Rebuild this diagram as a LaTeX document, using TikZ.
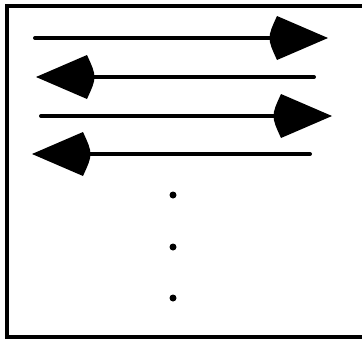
\documentclass[tikz,border=0pt]{standalone}

\begin{document}
\begin{tikzpicture}[x=1pt,y=-1pt]
\tikzset{
  frame/.style={line width=4pt},
  shaft/.style={line width=4pt,line cap=round},
  dot/.style={circle,fill,inner sep=0pt,minimum size=7pt},
  bighead/.pic={\fill (0,0) -- (-51,-22) .. controls (-61,0) .. (-51,22) -- cycle;}
}
\useasboundingbox (0,0) rectangle (362,338);
\clip (0,0) rectangle (362,338);
\draw[frame] (7,6) rectangle (372,337);
\coordinate (s_1) at (35,38);
\coordinate (t_1) at (328,38);
\coordinate (s_2) at (314,77);
\coordinate (t_2) at (36,77);
\coordinate (s_3) at (41,116);
\coordinate (t_3) at (332,116);
\coordinate (s_4) at (310,154);
\coordinate (t_4) at (32,154);
\node[dot] (d_1) at (173,195) {};
\node[dot] (d_2) at (173,247) {};
\node[dot] (d_3) at (173,298) {};
\draw[shaft] (s_1) -- ([xshift=-30pt]t_1);
\draw[shaft] (s_2) -- ([xshift=30pt]t_2);
\draw[shaft] (s_3) -- ([xshift=-30pt]t_3);
\draw[shaft] (s_4) -- ([xshift=30pt]t_4);
\pic at (t_1) {bighead};
\pic[xscale=-1] at (t_2) {bighead};
\pic at (t_3) {bighead};
\pic[xscale=-1] at (t_4) {bighead};
\end{tikzpicture}
\end{document}
